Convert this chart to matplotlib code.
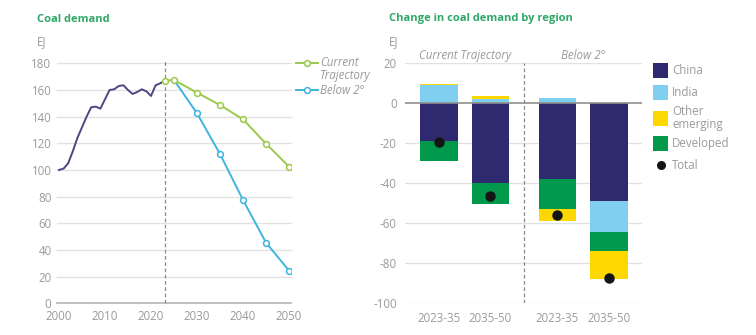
import matplotlib
matplotlib.use("Agg")
import matplotlib.pyplot as plt
from matplotlib.lines import Line2D
from matplotlib.patches import Rectangle

# ---- data ----
hist_years = list(range(2000, 2024))
hist_demand = [100, 101, 105, 114, 124, 132, 140, 147, 147.5, 146, 153, 160,
               160.5, 163, 163.5, 160, 157, 158.5, 160.5, 159, 155.5, 163.5, 165, 167]

ct_years = [2023, 2025, 2030, 2035, 2040, 2045, 2050]
ct_demand = [167, 167.5, 158, 148.7, 138, 119.7, 102.5]

b2_years = [2025, 2030, 2035, 2040, 2045, 2050]
b2_demand = [167.5, 142.5, 112, 77.5, 45.5, 24.5]

periods = ["2023-35", "2035-50", "2023-35", "2035-50"]
china = [-18.7, -39.8, -37.7, -48.7]
india = [9.3, 2.3, 2.8, -15.8]
other_emerging = [0.5, 1.5, -6.2, -14.3]
developed = [-10.3, -10.4, -15.1, -9.2]
total = [-19.2, -46.3, -55.8, -87.5]

# ---- style ----
GREEN_TITLE = "#2ea866"
GREY_TXT = "#9a9a9a"
GRID = "#e2e2e2"
BASE = "#b5b5b5"
C_HIST = "#4b4784"
C_CT = "#9cc84b"
C_B2 = "#3fb4de"
C_CHINA = "#2f2a70"
C_INDIA = "#80cff0"
C_OTHER = "#fcd800"
C_DEV = "#00984a"

plt.rcParams["font.family"] = ["Open Sans", "DejaVu Sans"]
plt.rcParams["axes.unicode_minus"] = False

W, H = 756, 335
fig = plt.figure(figsize=(W / 100, H / 100), dpi=100)
fig.patch.set_facecolor("white")


def fx(x):
    return x / W


def fy(y):
    return 1 - y / H


TICK_FS = 8.3
MS = 4.2

# ---- left panel: coal demand ----
axL = fig.add_axes([fx(57), fy(303.3), fx(291 - 57), (303.3 - 63.3) / H])
axL.set_xlim(1999.57, 2050.43)
axL.set_ylim(0, 180)
for s in axL.spines.values():
    s.set_visible(False)
axL.set_yticks(range(0, 181, 20))
axL.set_xticks(range(2000, 2051, 10))
axL.tick_params(length=0, labelsize=TICK_FS, colors=GREY_TXT, pad=4)
axL.tick_params(axis="x", pad=5)
for v in range(20, 181, 20):
    axL.axhline(v, color=GRID, lw=1, zorder=0, clip_on=False)
axL.axhline(0, color=BASE, lw=1.2, zorder=1, clip_on=False)
axL.plot([2023, 2023], [0, 182], color="#8a8a8a", lw=0.9, ls=(0, (3, 2)),
         zorder=1, clip_on=False)

axL.plot(hist_years, hist_demand, color=C_HIST, lw=1.4, zorder=3)
axL.plot(b2_years, b2_demand, color=C_B2, lw=1.4, marker="o", ms=MS,
         mfc="white", mew=1.1, markevery=list(range(1, len(b2_years))), zorder=4)
axL.plot(ct_years, ct_demand, color=C_CT, lw=1.4, marker="o", ms=MS,
         mfc="white", mew=1.1, zorder=5)

fig.text(fx(37), fy(19), "Coal demand", color=GREEN_TITLE, fontsize=8,
         fontweight="bold", va="center", ha="left")
fig.text(fx(37), fy(42), "EJ", color=GREY_TXT, fontsize=TICK_FS, va="center", ha="left")

# left legend
for yy, col, label_lines in [(63, C_CT, ["Current", "Trajectory"]), (90, C_B2, ["Below 2°"])]:
    fig.add_artist(Line2D([fx(296), fx(318)], [fy(yy), fy(yy)], color=col, lw=1.4))
    fig.add_artist(Line2D([fx(307)], [fy(yy)], color=col, marker="o", ms=MS,
                          mfc="white", mew=1.1))
    for i, t in enumerate(label_lines):
        fig.text(fx(320), fy(yy + i * 12), t, color=GREY_TXT, fontsize=TICK_FS,
                 style="italic", va="center", ha="left")

# ---- right panel: change by region ----
xpos = [0, 1, 2.3, 3.3]
bw = 0.73
axR = fig.add_axes([fx(405), fy(303.3), fx(641.7 - 405), (303.3 - 63.3) / H])
axR.set_xlim(-0.66, 3.94)
axR.set_ylim(-100, 20)
for s in axR.spines.values():
    s.set_visible(False)
axR.set_yticks(range(-100, 21, 20))
axR.set_xticks(xpos)
axR.set_xticklabels(periods)
axR.tick_params(length=0, labelsize=TICK_FS, colors=GREY_TXT, pad=6)
axR.tick_params(axis="y", pad=6)
for v in range(-100, 21, 20):
    if v != 0:
        axR.axhline(v, color=GRID, lw=1, zorder=0)

series = [(china, C_CHINA), (india, C_INDIA), (developed, C_DEV), (other_emerging, C_OTHER)]
pos_stack = [0.0] * 4
neg_stack = [0.0] * 4
for vals, col in series:
    for i, v in enumerate(vals):
        if v >= 0:
            axR.bar(xpos[i], v, bw, bottom=pos_stack[i], color=col, zorder=2, lw=0)
            pos_stack[i] += v
        else:
            axR.bar(xpos[i], v, bw, bottom=neg_stack[i], color=col, zorder=2, lw=0)
            neg_stack[i] += v

axR.axhline(0, color="#8f8f8f", lw=1.2, zorder=3)
axR.plot(xpos, total, ls="none", marker="o", ms=6.5, color="#141414", zorder=4)
axR.plot([1.65, 1.65], [-100, 20], color="#8a8a8a", lw=0.9, ls=(0, (3, 2)), zorder=1)

axR.text(0.5, 24, "Current Trajectory", color=GREY_TXT, fontsize=TICK_FS, style="italic",
         ha="center", va="center")
axR.text(2.8, 24, "Below 2°", color=GREY_TXT, fontsize=TICK_FS, style="italic",
         ha="center", va="center")

fig.text(fx(389), fy(19), "Change in coal demand by region", color=GREEN_TITLE,
         fontsize=8, fontweight="bold", va="center", ha="left")
fig.text(fx(389), fy(42), "EJ", color=GREY_TXT, fontsize=TICK_FS, va="center", ha="left")

# right legend
legend_items = [("China", C_CHINA, 70.5), ("India", C_INDIA, 92.5),
                ("Other\nemerging", C_OTHER, 118), ("Developed", C_DEV, 143)]
for name, col, yy in legend_items:
    fig.add_artist(Rectangle((fx(653), fy(yy + 7.5)), fx(15), 15 / H,
                             facecolor=col, edgecolor="none"))
    fig.text(fx(672), fy(yy), name, color=GREY_TXT, fontsize=TICK_FS, va="center",
             ha="left", linespacing=1.0)
fig.add_artist(Line2D([fx(660.5)], [fy(165.5)], color="#141414", marker="o", ms=5.5))
fig.text(fx(672), fy(165.5), "Total", color=GREY_TXT, fontsize=TICK_FS, va="center", ha="left")

fig.savefig("out.png", dpi=100, facecolor="white")
